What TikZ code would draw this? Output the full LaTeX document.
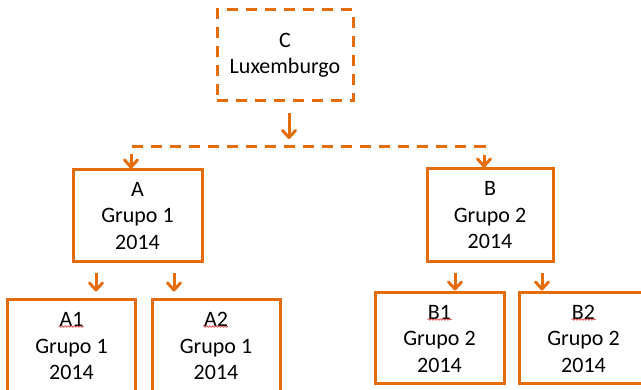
\documentclass[tikz,border=0pt]{standalone}
\usepackage{fontspec}
\setmainfont{Carlito}
\usetikzlibrary{arrows.meta,calc,decorations.pathmorphing}
\definecolor{boxorange}{RGB}{228,108,10}
\definecolor{spellred}{RGB}{220,40,40}
\tikzset{
  unit/.style={draw=boxorange, line width=3pt, rectangle, align=center,
    font=\fontsize{22}{26.5}\selectfont, text=black, inner sep=0pt},
  dashbox/.style={unit, dash pattern=on 11pt off 8pt},
  link/.style={draw=boxorange, line width=3pt,
    -{Straight Barb[length=7pt,width=13pt,line cap=round,line join=round]}},
  dashlink/.style={draw=boxorange, line width=3pt, dash pattern=on 11pt off 8pt,
    {Straight Barb[length=7pt,width=13pt,line cap=round,line join=round]}-{Straight Barb[length=7pt,width=13pt,line cap=round,line join=round]},
    line join=miter},
  squiggle/.style={draw=spellred, line width=0.6pt,
    decorate, decoration={snake, amplitude=0.8pt, segment length=3pt}}
}
\begin{document}
\begin{tikzpicture}[x=1pt,y=-1pt]
  \useasboundingbox (0,0) rectangle (641,390);

  % boxes
  \node[dashbox, minimum width=136pt, minimum height=91pt] (C) at (285,55.5) {C\\Luxemburgo};
  \node[unit, minimum width=129pt, minimum height=92pt] (A) at (137.5,216) {A\\Grupo 1\\2014};
  \node[unit, minimum width=126pt, minimum height=93pt] (B) at (490,215.5) {B\\Grupo 2\\2014};
  \node[unit, minimum width=128pt, minimum height=92pt] (A1) at (71.5,346) {A1\\Grupo 1\\2014};
  \node[unit, minimum width=128pt, minimum height=92pt] (A2) at (216,346) {A2\\Grupo 1\\2014};
  \node[unit, minimum width=129pt, minimum height=91pt] (B1) at (439.5,338.5) {B1\\Grupo 2\\2014};
  \node[unit, minimum width=129pt, minimum height=91pt] (B2) at (583.5,338.5) {B2\\Grupo 2\\2014};

  % positions of the connector columns
  \coordinate (hub) at (289,147);
  \coordinate (xa) at (131,0);
  \coordinate (xb) at (484,0);
  \coordinate (xa1) at (96,0);
  \coordinate (xa2) at (174,0);
  \coordinate (xb1) at (455,0);
  \coordinate (xb2) at (542,0);

  % top level
  \draw[link, shorten <=11pt, shorten >=8pt] (C.south -| hub) -- (hub);
  \draw[dashlink] (A.north -| xa) -- (xa |- hub) -- (xb |- hub) -- (B.north -| xb);

  % second level
  \draw[link, shorten <=10pt, shorten >=7pt] (A.south -| xa1) -- (A1.north -| xa1);
  \draw[link, shorten <=10pt, shorten >=7pt] (A.south -| xa2) -- (A2.north -| xa2);
  \draw[link, shorten <=10pt, shorten >=1pt] (B.south -| xb1) -- (B1.north -| xb1);
  \draw[link, shorten <=10pt, shorten >=1pt] (B.south -| xb2) -- (B2.north -| xb2);

  % spell-check marks under the short codes
  \draw[squiggle] ($(A1.north)+(-13,28)$) -- ++(25,0);
  \draw[squiggle] ($(A2.north)+(-13,28)$) -- ++(25,0);
  \draw[squiggle] ($(B1.north)+(-12,28)$) -- ++(24,0);
  \draw[squiggle] ($(B2.north)+(-12,28)$) -- ++(24,0);
\end{tikzpicture}
\end{document}
